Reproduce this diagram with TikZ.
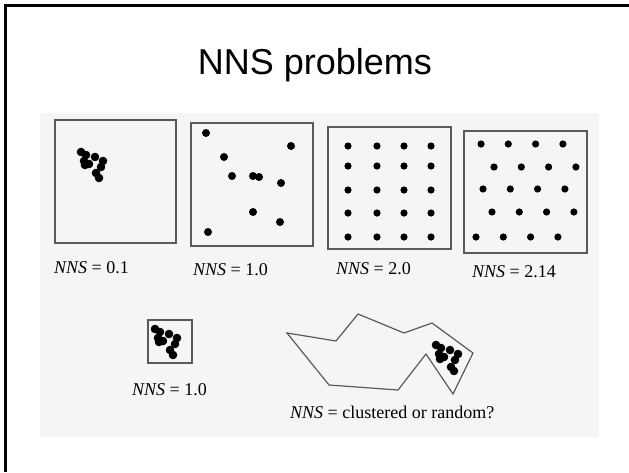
\documentclass[tikz,border=0pt]{standalone}
\usepackage{fontspec}
\usepackage{tikz}
\usepackage{xcolor}
\newfontfamily\titlefont{Liberation Sans}
\newfontfamily\scanfont{Liberation Serif}
\definecolor{scangray}{RGB}{245,245,245}
\definecolor{linegray}{RGB}{90,90,90}

\begin{document}
\begin{tikzpicture}[x=1pt, y=-1pt]
	\useasboundingbox (0,0) rectangle (629,472);
	\fill[white] (0,0) rectangle (629,472);
	\draw[black, line width=2.7pt] (5.3,472) -- (5.3,5.3) -- (629,5.3);
	\node[anchor=base] (A) at (315,74) {\titlefont\fontsize{36}{40}\selectfont NNS problems};
	\fill[scangray] (40,113) rectangle (599,437);
	% top row
	\draw[linegray, line width=1.3pt] (55,120) rectangle (176,243);
	\draw[linegray, line width=1.3pt] (191,123) rectangle (313,246);
	\draw[linegray, line width=1.3pt] (328,127) rectangle (451,249);
	\draw[linegray, line width=1.3pt] (464,131) rectangle (587,253);
	\foreach \x/\y in {0/0, 5/3, 14/5, 22/9, 3/9, 8/12, 4/13, 20/15, 15/21, 18/26}
		\fill (81+\x,152+\y) circle (4.3);
	\foreach \x/\y in {206/133, 291/146, 224/157, 232/176, 253/176, 259/177, 281/183, 253/212, 280/222, 208/232}
		\fill (\x,\y) circle (4);
	\foreach \x in {348,377,404,431}
		\foreach \y in {146,166,190,213,237}
			\fill (\x,\y) circle (3.6);
	\foreach \y/\s in {144/481, 167/494, 189/483, 212/492, 237/476}
		\foreach \i in {0,...,3}
			\fill (\s+27.3*\i,\y) circle (3.6);
	\node[anchor=base west, inner sep=0pt] (B) at (54,273) {\scanfont\fontsize{18}{20}\selectfont\textit{NNS} = 0.1};
	\node[anchor=base west, inner sep=0pt] (C) at (193,275) {\scanfont\fontsize{18}{20}\selectfont\textit{NNS} = 1.0};
	\node[anchor=base west, inner sep=0pt] (D) at (336,274) {\scanfont\fontsize{18}{20}\selectfont\textit{NNS} = 2.0};
	\node[anchor=base west, inner sep=0pt] (E) at (472,277) {\scanfont\fontsize{18}{20}\selectfont\textit{NNS} = 2.14};
	% bottom row
	\draw[linegray, line width=1.3pt] (148,320) rectangle (192,363);
	\foreach \x/\y in {0/0, 5/3, 14/5, 22/9, 3/9, 8/12, 4/13, 20/15, 15/21, 18/26}
		\fill (155+\x,329+\y) circle (4.3);
	\draw[linegray, line width=1.2pt] (287,333) -- (336,341) -- (358,314) -- (404,333) -- (432,323)
		-- (473,353) -- (453,394) -- (426,354) -- (398,390) -- (329,385) -- cycle;
	\foreach \x/\y in {0/0, 5/3, 14/5, 22/9, 3/9, 8/12, 4/14, 19/15, 15/22, 18/26}
		\fill (436+\x,345+\y) circle (4.3);
	\node[anchor=base west, inner sep=0pt] (F) at (132,395) {\scanfont\fontsize{18}{20}\selectfont\textit{NNS} = 1.0};
	\node[anchor=base west, inner sep=0pt] (G) at (290,418) {\scanfont\fontsize{18}{20}\selectfont\textit{NNS} = clustered or random?};
\end{tikzpicture}
\end{document}
